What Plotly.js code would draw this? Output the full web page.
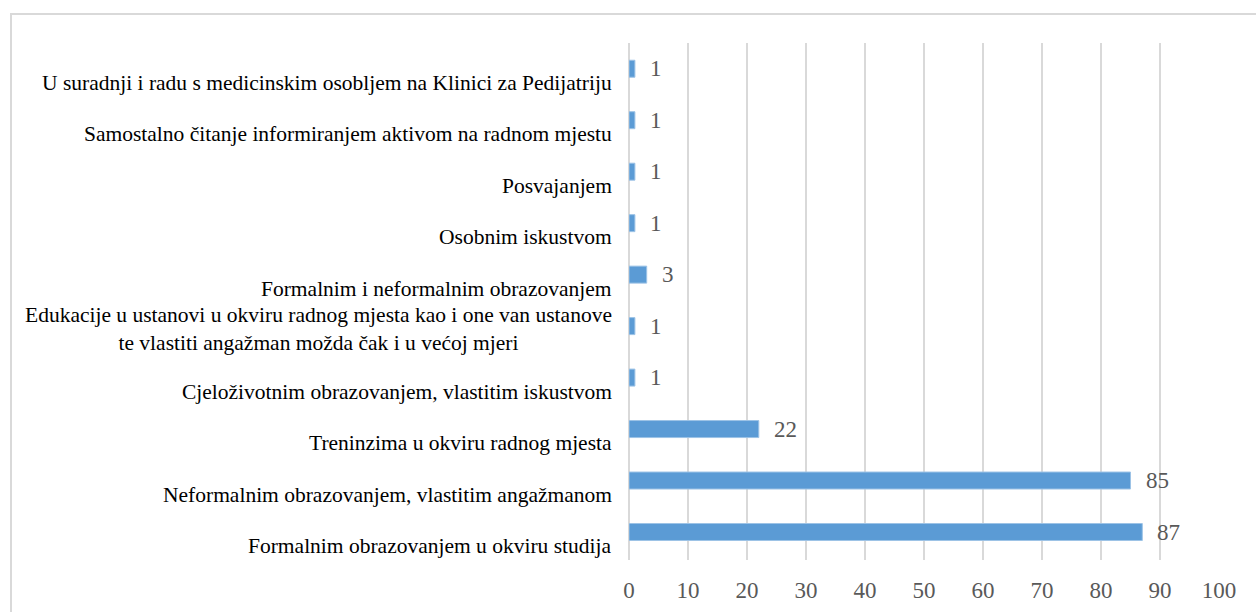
<!DOCTYPE html>
<html>
<head>
<meta charset="utf-8">
<script src="https://cdn.plot.ly/plotly-3.0.1.min.js"></script>
<style>
  html, body { margin: 0; padding: 0; background: #fff; }
  #chart { width: 1256px; height: 612px; }
</style>
</head>
<body>
<div id="chart"></div>
<script>
// Categories from bottom to top
var categories = [
  "Formalnim obrazovanjem u okviru studija",
  "Neformalnim obrazovanjem, vlastitim angažmanom",
  "Treninzima u okviru radnog mjesta",
  "Cjeloživotnim obrazovanjem, vlastitim iskustvom",
  "Edukacije u ustanovi u okviru radnog mjesta kao i one van ustanove<br>te vlastiti angažman možda čak i u većoj mjeri",
  "Formalnim i neformalnim obrazovanjem",
  "Osobnim iskustvom",
  "Posvajanjem",
  "Samostalno čitanje informiranjem aktivom na radnom mjestu",
  "U suradnji i radu s medicinskim osobljem na Klinici za Pedijatriju"
];
var values = [87, 85, 22, 1, 1, 3, 1, 1, 1, 1];
var tickValues = [0, 10, 20, 30, 40, 50, 60, 70, 80, 90, 100];

var serif = "Liberation Serif";

var trace = {
  type: 'bar',
  orientation: 'h',
  x: values,
  y: categories,
  marker: { color: '#5B9BD5', line: { color: '#9DC3E6', width: 1 } },
  hoverinfo: 'x+y'
};

var annotations = [];
// data labels
for (var i = 0; i < values.length; i++) {
  annotations.push({
    x: values[i], y: categories[i], xref: 'x', yref: 'y',
    text: String(values[i]), showarrow: false,
    xanchor: 'left', yanchor: 'middle', xshift: 13,
    font: { family: serif, size: 23, color: '#595959' }
  });
}
// category labels (centered multi-line like the original)
for (var j = 0; j < categories.length; j++) {
  var multi = categories[j].indexOf('<br>') >= 0;
  annotations.push({
    x: 0, y: categories[j], xref: 'paper', yref: 'y',
    text: categories[j], showarrow: false,
    xanchor: 'right', yanchor: 'middle', align: 'center',
    xshift: -15, yshift: multi ? -3 : -14,
    font: { family: serif, size: 21.5, color: '#000000' }
  });
}

var layout = {
  width: 1256, height: 612,
  margin: { l: 629, r: 37, t: 43, b: 52, pad: 0 },
  paper_bgcolor: '#ffffff', plot_bgcolor: '#ffffff',
  showlegend: false,
  bargap: 0.67,
  font: { family: serif },
  xaxis: {
    range: [0, 100], tickvals: tickValues, ticktext: tickValues.map(String),
    showgrid: true, gridcolor: '#d9d9d9', gridwidth: 1.5,
    zeroline: true, zerolinecolor: '#d9d9d9', zerolinewidth: 1.5,
    showline: false, ticks: '', ticklabelstandoff: 14,
    tickfont: { family: serif, size: 23, color: '#595959' },
    fixedrange: true
  },
  yaxis: {
    type: 'category', showticklabels: false, showgrid: false,
    zeroline: false, showline: false, ticks: '', fixedrange: true
  },
  annotations: annotations,
  shapes: [{
    type: 'rect', xref: 'paper', yref: 'paper', layer: 'below',
    x0: (11 - 629) / 590, x1: (1262 - 629) / 590,
    y0: (560 - 620) / 517, y1: (560 - 14) / 517,
    line: { color: '#d9d9d9', width: 2 }, fillcolor: 'rgba(0,0,0,0)'
  }]
};

Plotly.newPlot('chart', [trace], layout, { displayModeBar: false });
</script>
</body>
</html>
